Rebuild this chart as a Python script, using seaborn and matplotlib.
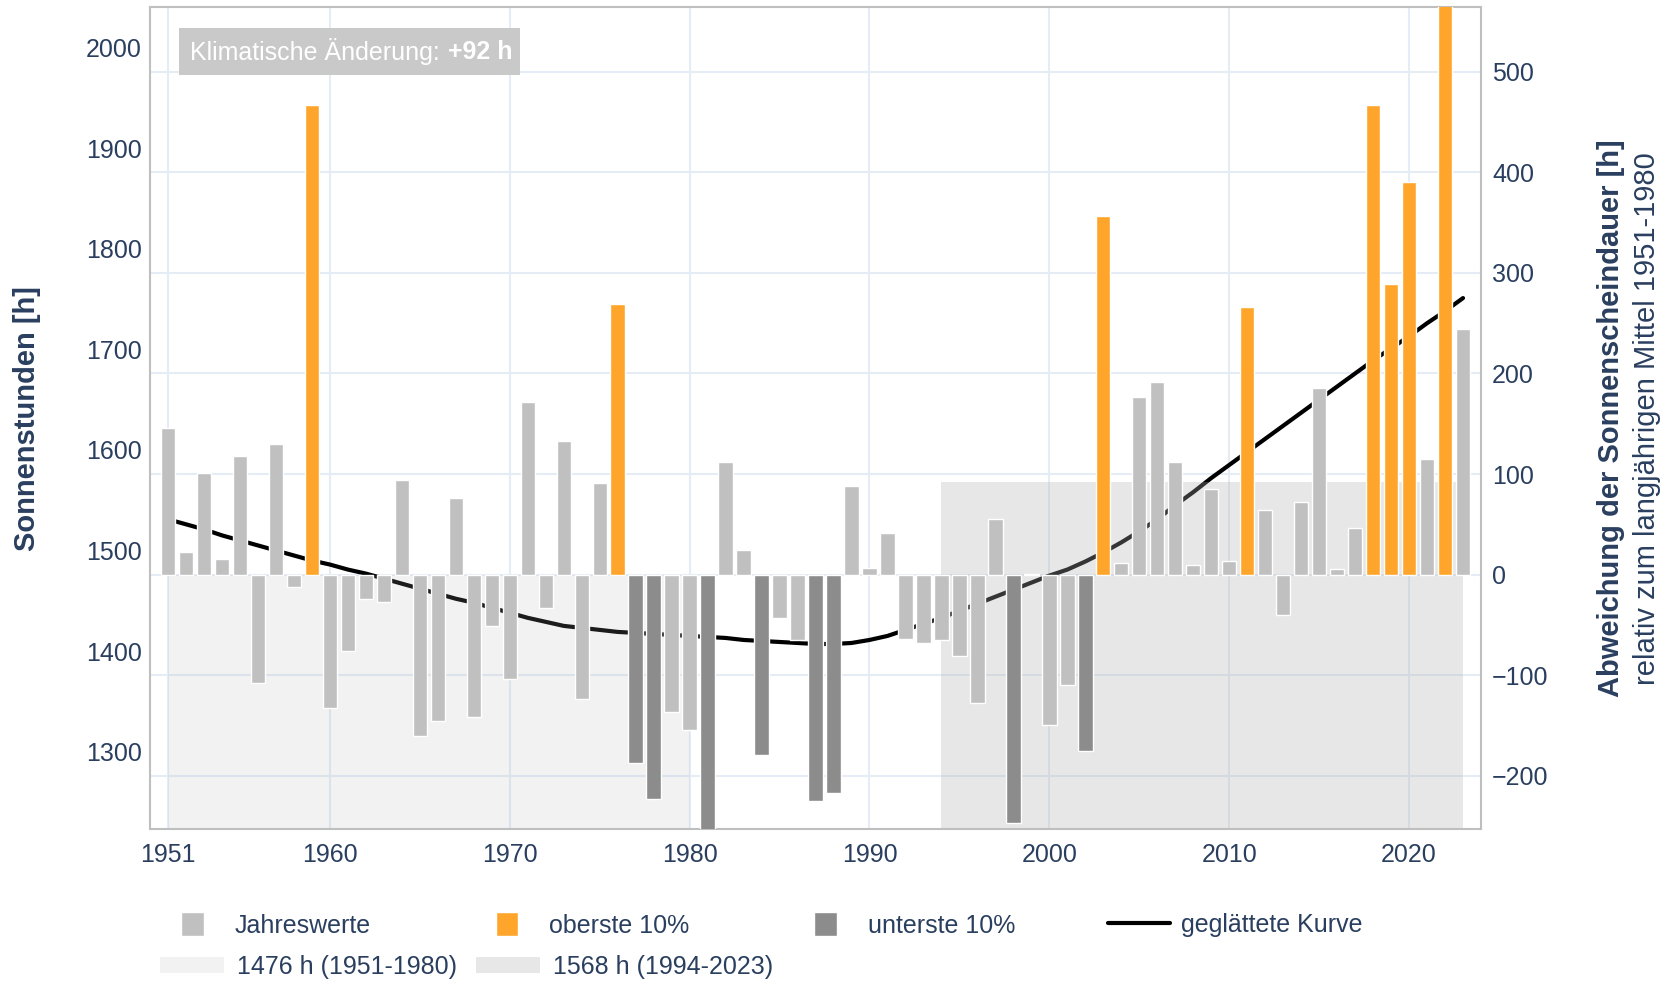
import numpy as np
import pandas as pd
import seaborn as sns
import matplotlib.pyplot as plt
from matplotlib.lines import Line2D
from matplotlib.patches import Patch, Rectangle

# Jahreswerte der Sonnenscheindauer [h]
years = list(range(1951, 2024))
hours = [1622, 1498, 1577, 1492, 1594, 1368, 1606, 1464, 1943, 1343,
         1400, 1452, 1449, 1570, 1315, 1330, 1552, 1334, 1425, 1372,
         1648, 1443, 1609, 1352, 1567, 1745, 1289, 1253, 1339, 1321,
         1220, 1588, 1500, 1297, 1433, 1411, 1251, 1259, 1564, 1483,
         1517, 1412, 1408, 1411, 1395, 1348, 1531, 1229, 1477, 1326,
         1366, 1301, 1833, 1488, 1653, 1668, 1588, 1486, 1561, 1490,
         1742, 1540, 1436, 1548, 1662, 1482, 1522, 1943, 1765, 1866,
         1591, 2042, 1720]

# geglaettete Kurve (Abweichung zum Mittel 1951-1980)
smooth_dev = [55, 50, 45, 39, 34, 29, 24, 19, 14, 10,
              5, 1, -4, -9, -14, -19, -24, -28, -33, -38,
              -43, -47, -51, -53, -55, -57, -58, -59, -60, -61,
              -62, -63, -65, -66, -67, -68, -69, -69, -68, -65,
              -61, -55, -49, -43, -36, -29, -22, -15, -8, -1,
              5, 13, 22, 32, 43, 55, 69, 82, 96, 109,
              122, 135, 148, 161, 174, 187, 200, 213, 225, 237,
              250, 262, 275]

ref_periods = [(1951, 1980), (1994, 2023)]
ref_means = [1476, 1568]

x_ticks = [1951, 1960, 1970, 1980, 1990, 2000, 2010, 2020]
dev_ticks = [-200, -100, 0, 100, 200, 300, 400, 500]
hour_ticks = [1300, 1400, 1500, 1600, 1700, 1800, 1900, 2000]

labels = ["Jahreswerte", "oberste 10%", "unterste 10%"]
colors = {"Jahreswerte": "#c0c0c0", "oberste 10%": "#ffa52c", "unterste 10%": "#8c8c8c"}
band_color = "#b2b2b2"
band_alpha = [0.16, 0.30]
txt_col = "#2a3f5f"

base = ref_means[0]
dev = np.array(hours) - base
n_ext = 8
order = np.argsort(dev)
cat = np.full(len(years), labels[0], dtype=object)
cat[order[-n_ext:]] = labels[1]
cat[order[:n_ext]] = labels[2]
df = pd.DataFrame({"Jahr": years, "Abweichung": dev, "Klasse": cat})

sns.set_theme(style="white")
plt.rcParams["font.family"] = ["Liberation Sans", "DejaVu Sans"]

fig = plt.figure(figsize=(16.71, 9.82), dpi=100)
ax = fig.add_axes([0.0898, 0.1558, 0.7965, 0.8366])
ylo, yhi = -253, 564

ax.plot(years, smooth_dev, color="black", lw=3, zorder=2)

# Referenzzeitraeume als halbtransparente Flaechen ueber der Kurve
for (a, b), m, al in zip(ref_periods, ref_means, band_alpha):
    ax.fill_between([a, b], ylo, m - base, color=band_color, alpha=al, lw=0, zorder=2.5)

sns.barplot(data=df, x="Jahr", y="Abweichung", hue="Klasse", palette=colors,
            native_scale=True, dodge=False, width=0.8, errorbar=None,
            saturation=1, legend=False, edgecolor="white", linewidth=1,
            zorder=3, ax=ax)

ax.set_xlim(1950, 2024)
ax.set_ylim(ylo, yhi)
ax.set_xlabel("")
ax.set_ylabel("")
ax.set_xticks(x_ticks)
ax.set_xticklabels([str(t) for t in x_ticks])
ax.set_yticks(dev_ticks)
ax.set_axisbelow(True)
ax.grid(True, color="#e5ecf6", lw=1.5)
for s in ax.spines.values():
    s.set_color("#bfbfbf")
    s.set_linewidth(1.5)

# linke Achse in absoluten Stunden
ax_h = ax.twinx()
ax_h.set_ylim(ylo + base, yhi + base)
ax_h.set_yticks(hour_ticks)
ax_h.yaxis.tick_left()
ax_h.grid(False)
for s in ax_h.spines.values():
    s.set_visible(False)
ax_h.tick_params(axis="y", length=0, pad=6, labelsize=18, labelcolor=txt_col)

ax.yaxis.tick_right()
ax.tick_params(axis="y", length=0, pad=8, labelsize=18, labelcolor=txt_col)
ax.tick_params(axis="x", length=0, pad=10, labelsize=18, labelcolor=txt_col)

# Klimatische Aenderung
change = ref_means[1] - ref_means[0]
ax.add_patch(Rectangle((0.0218, 0.918), 0.2562, 0.057, transform=ax.transAxes,
                       facecolor="#c9c9c9", edgecolor="none", zorder=5))
t1 = ax.text(0.030, 0.946, "Klimatische Änderung:", transform=ax.transAxes,
             va="center", ha="left", color="white", fontsize=18, zorder=6)
ax.annotate(f"+{change} h", xy=(1, 0.5), xycoords=t1, xytext=(6, 0),
            textcoords="offset points", va="center", ha="left", color="white",
            fontsize=18, fontweight="bold", zorder=6)

# Achsentitel
fig.text(0.016, 0.574, "Sonnenstunden [h]", rotation=90, ha="center", va="center",
         fontsize=21, fontweight="bold", color=txt_col)
fig.text(0.964, 0.574, "Abweichung der Sonnenscheindauer [h]", rotation=90,
         ha="center", va="center", fontsize=21, fontweight="bold", color=txt_col)
fig.text(0.9856, 0.574, "relativ zum langjährigen Mittel 1951-1980", rotation=90,
         ha="center", va="center", fontsize=21, color=txt_col)

# Legende
common = dict(frameon=False, borderpad=0, borderaxespad=0, loc="center left",
              bbox_transform=fig.transFigure, fontsize=18, labelcolor=txt_col)
h1 = [Patch(facecolor=colors[l], edgecolor="white", label=l) for l in labels]
leg1 = fig.legend(handles=h1, ncol=3, handlelength=0.9, handleheight=1.08,
                  handletextpad=1.24, columnspacing=5.0,
                  bbox_to_anchor=(181 / 1671, 0.058), **common)
leg2 = fig.legend(handles=[Line2D([], [], color="black", lw=3, label="geglättete Kurve")],
                  handlelength=2.48, handletextpad=0.44,
                  bbox_to_anchor=(1108 / 1671, 0.058), **common)
h3 = [Patch(facecolor=band_color, alpha=al, edgecolor="none", label=f"{m} h ({a}-{b})")
      for (a, b), m, al in zip(ref_periods, ref_means, band_alpha)]
leg3 = fig.legend(handles=h3, ncol=2, handlelength=2.56, handleheight=0.6,
                  handletextpad=0.52, columnspacing=0.76,
                  bbox_to_anchor=(160 / 1671, 0.0153), **common)

fig.savefig("out.png", dpi=100)
